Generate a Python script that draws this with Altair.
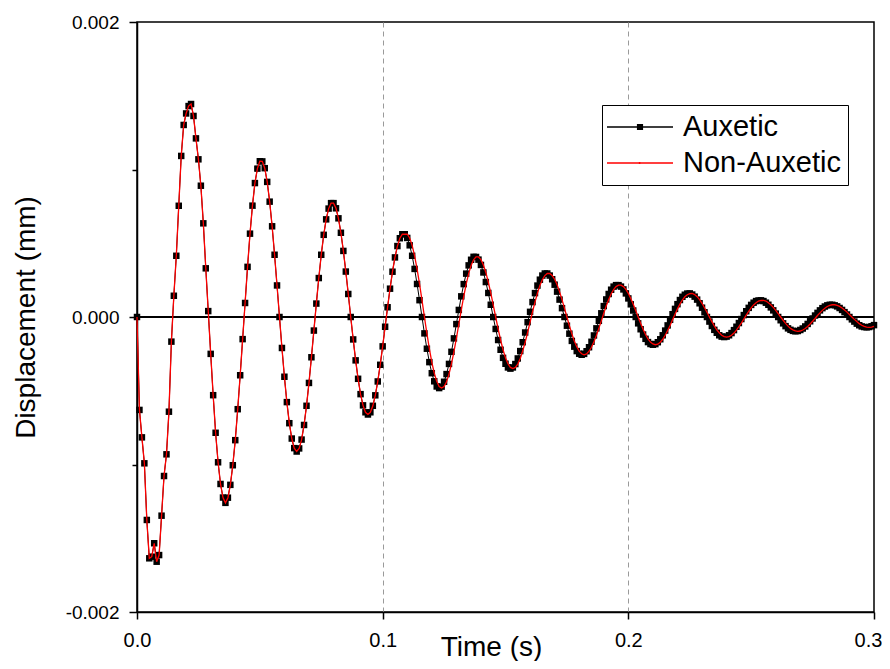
import altair as alt
import pandas as pd

FONT = "Liberation Sans"

# Displacement samples, one per millisecond, in units of 1e-6 mm
AUXETIC = [
    0, -630, -816, -992, -1376, -1636, -1625, -1534, -1659, -1614,
    -1347, -1078, -931, -642, -167, 144, 415, 754, 1092, 1302,
    1380, 1430, 1444, 1363, 1211, 1069, 890, 635, 330, 40,
    -250, -530, -785, -985, -1132, -1224, -1260, -1225, -1138, -1005,
    -835, -625, -395, -150, 95, 340, 565, 755, 908, 1006,
    1056, 1055, 1009, 916, 782, 615, 422, 214, 0, -210,
    -405, -577, -720, -824, -889, -912, -891, -831, -732, -602,
    -447, -273, -92, 91, 264, 422, 557, 662, 735, 772,
    772, 737, 669, 571, 448, 308, 156, 0, -152, -294,
    -419, -523, -599, -646, -661, -646, -602, -531, -437, -324,
    -199, -66, 66, 192, 307, 404, 481, 534, 561, 561,
    536, 486, 415, 326, 224, 114, 0, -111, -215, -306,
    -381, -436, -471, -482, -472, -439, -387, -318, -236, -145,
    -48, 48, 140, 223, 294, 350, 388, 408, 407, 389,
    353, 302, 237, 163, 83, 0, -81, -156, -222, -277,
    -317, -342, -350, -342, -319, -281, -231, -171, -105, -35,
    35, 101, 162, 213, 253, 281, 295, 295, 281, 256,
    219, 172, 118, 60, 0, -59, -113, -162, -201, -231,
    -249, -256, -250, -232, -205, -168, -125, -77, -26, 25,
    74, 119, 156, 185, 206, 216, 216, 206, 187, 160,
    126, 86, 44, 0, -43, -83, -119, -148, -170, -183,
    -188, -184, -171, -151, -124, -92, -57, -19, 19, 55,
    87, 115, 137, 151, 159, 160, 152, 138, 118, 93,
    63, 32, 0, -31, -61, -87, -107, -124, -133, -136,
    -133, -124, -109, -89, -66, -41, -14, 13, 39, 62,
    82, 97, 108, 112, 113, 108, 97, 83, 65, 45,
    23, 0, -22, -43, -62, -77, -87, -94, -97, -95,
    -88, -78, -64, -47, -29, -10, 10, 28, 45, 60,
    71, 79, 83, 83, 79, 72, 61, 48, 33, 17,
    0, -16, -31, -45, -56, -64, -68, -70, -68, -63,
    -55,
]

NON_AUXETIC = [
    0, -630, -816, -992, -1376, -1636, -1625, -1534, -1659, -1614,
    -1347, -1078, -931, -642, -167, 144, 415, 754, 1092, 1302,
    1380, 1430, 1444, 1363, 1211, 1069, 890, 635, 330, 40,
    -250, -530, -785, -985, -1132, -1224, -1260, -1225, -1138, -1005,
    -835, -625, -395, -150, 95, 340, 565, 755, 908, 1006,
    1056, 1055, 1009, 916, 782, 615, 422, 214, 0, -210,
    -405, -577, -720, -824, -889, -912, -891, -831, -732, -602,
    -447, -273, -92, 91, 264, 422, 557, 662, 735, 772,
    772, 737, 669, 571, 448, 308, 156, 0, -152, -294,
    -419, -523, -599, -646, -661, -646, -602, -531, -437, -324,
    -199, -66, 66, 192, 307, 404, 481, 534, 561, 561,
    561, 536, 486, 415, 326, 224, 114, 0, -111, -215,
    -306, -381, -436, -471, -482, -472, -439, -387, -318, -236,
    -145, -48, 48, 140, 223, 294, 350, 388, 408, 407,
    389, 353, 302, 237, 163, 83, 0, -81, -156, -222,
    -277, -317, -342, -350, -342, -319, -281, -231, -171, -105,
    -35, 35, 101, 162, 213, 253, 281, 295, 295, 281,
    256, 219, 172, 118, 60, 0, -59, -113, -162, -201,
    -231, -249, -256, -250, -232, -205, -168, -125, -77, -26,
    25, 74, 119, 156, 185, 206, 216, 216, 206, 187,
    160, 126, 86, 44, 0, -43, -83, -119, -148, -170,
    -183, -188, -184, -171, -151, -124, -92, -57, -19, 19,
    55, 87, 115, 137, 151, 159, 160, 152, 138, 118,
    93, 63, 32, 0, -31, -61, -87, -107, -124, -133,
    -136, -133, -124, -109, -89, -66, -41, -14, 13, 39,
    62, 82, 97, 108, 112, 113, 108, 97, 83, 65,
    45, 23, 0, -22, -43, -62, -77, -87, -94, -97,
    -95, -88, -78, -64, -47, -29, -10, 10, 28, 45,
    60, 71, 79, 83, 83, 79, 72, 61, 48, 33,
    17, 0, -16, -31, -45, -56, -64, -68, -70, -68,
    -63,
]

SERIES = ["Auxetic", "Non-Auxetic"]
SERIES_COLORS = ["black", "#ff0000"]
X_TICKS = [0.0, 0.1, 0.2, 0.3]
Y_TICKS = [-0.002, -0.001, 0.0, 0.001, 0.002]
STEP_S = 0.001
UNIT_MM = 1e-6

times = [round(i * STEP_S, 3) for i in range(len(AUXETIC))]
df_a = pd.DataFrame({"t": times, "v": [a * UNIT_MM for a in AUXETIC]})
df_n = pd.DataFrame({"t": times, "v": [a * UNIT_MM for a in NON_AUXETIC]})
df_leg = pd.DataFrame({"series": SERIES, "t": [None, None], "v": [None, None]})
df_zero = pd.DataFrame({"v": [0.0]})

minor_test = "abs(datum.value) > 0.0005 && abs(datum.value) < 0.0015"

x_axis = alt.Axis(
    values=X_TICKS, format=".1f", labelFlush=False, labelOverlap=False,
    tickSize=7, tickWidth=1.5, tickColor="black",
    domainColor="black", domainWidth=1.5,
    labelFont=FONT, labelFontSize=20, labelColor="black", labelPadding=11,
    labelOffset={"condition": {"test": "datum.value > 0.25", "value": -6}, "value": 0},
    grid=True, gridColor="#9a9a9a", gridDash=[5, 4], gridWidth=1,
    gridOpacity={"condition": {"test": "datum.value > 0.05 && datum.value < 0.25", "value": 1}, "value": 0},
    title="Time (s)", titleFont=FONT, titleFontSize=28, titleFontWeight="normal",
    titleColor="black", titleX=354, titleY=43, titleAlign="center", titleBaseline="alphabetic",
)
y_axis = alt.Axis(
    values=Y_TICKS,
    labelExpr=f"({minor_test}) ? '' : (datum.value < 0 ? '-' : '') + format(abs(datum.value), '.3f')",
    labelFlush=False, labelOverlap=False,
    tickSize=8, tickWidth=1.5, tickColor="black",
    tickDash={"condition": {"test": minor_test, "value": [5, 20]}, "value": [1, 0]},
    domainColor="black", domainWidth=1.5,
    labelFont=FONT, labelFontSize=19, labelColor="black", labelPadding=10,
    grid=False,
    title="Displacement (mm)", titleFont=FONT, titleFontSize=28, titleFontWeight="normal",
    titleColor="black", titleX=-103, titleY=295, titleAngle=270, titleAlign="center",
    titleBaseline="alphabetic",
)

x_enc = alt.X("t:Q", scale=alt.Scale(domain=[0, 0.3], nice=False, zero=False), axis=x_axis)
y_enc = alt.Y("v:Q", scale=alt.Scale(domain=[-0.002, 0.002], nice=False, zero=False), axis=y_axis)

zero_line = alt.Chart(df_zero).mark_rule(color="black", strokeWidth=2).encode(y=y_enc)
aux_line = alt.Chart(df_a).mark_line(color="black", strokeWidth=1).encode(x=x_enc, y=y_enc)
aux_pts = alt.Chart(df_a).mark_point(
    shape="square", filled=True, size=42, color="black", opacity=1
).encode(x=x_enc, y=y_enc)
non_line = alt.Chart(df_n).mark_line(color="#ff0000", strokeWidth=1.3).encode(x=x_enc, y=y_enc)

PATH_AUX = ("M-2.36,0H2.36M-0.22,-0.16H0.22M-0.22,-0.08H0.22M-0.22,0.08H0.22M-0.22,0.16H0.22")
PATH_NON = "M-2.36,0H2.36M-0.03,-0.07V0.07"

legend = alt.Legend(
    orient="none", legendX=465, legendY=83, title=None,
    fillColor="white", strokeColor="black", padding=7, cornerRadius=0,
    labelFont=FONT, labelFontSize=29, labelColor="black", labelOffset=28,
    symbolSize=784, symbolStrokeWidth=1.5, symbolOffset=16, rowPadding=6,
)
leg_layer = alt.Chart(df_leg).mark_point(filled=False, opacity=1, strokeWidth=1.5).encode(
    x=x_enc, y=y_enc,
    color=alt.Color("series:N", scale=alt.Scale(domain=SERIES, range=SERIES_COLORS), legend=legend),
    shape=alt.Shape("series:N", scale=alt.Scale(domain=SERIES, range=[PATH_AUX, PATH_NON]), legend=legend),
)

chart = alt.layer(zero_line, aux_line, aux_pts, non_line, leg_layer).properties(
    width=737, height=590,
    autosize=alt.AutoSizeParams(type="none"),
    padding={"left": 129, "top": 14, "right": 8, "bottom": 49},
    background="white",
).configure_view(stroke="black", strokeWidth=1.5)

chart.save("out.html", embed_options={"renderer": "svg", "actions": False})
